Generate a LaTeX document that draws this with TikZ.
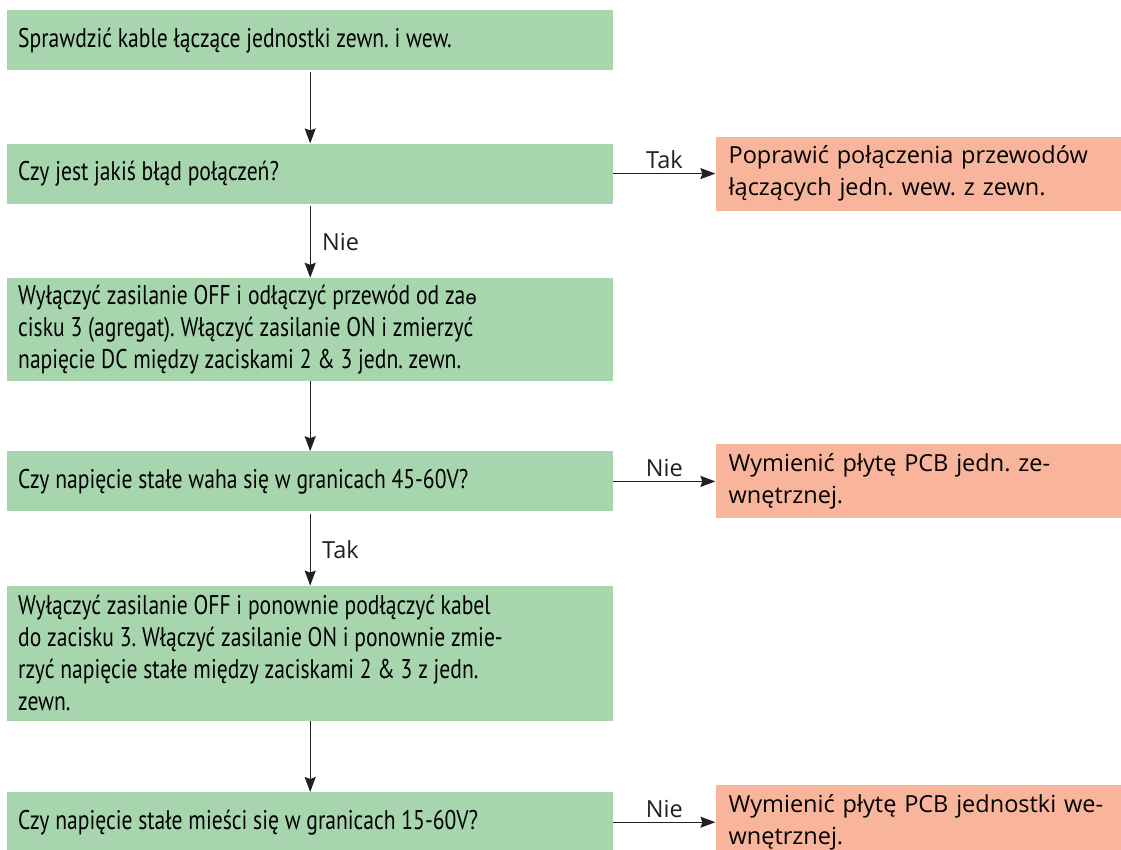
\documentclass[tikz,border=0pt]{standalone}
\usepackage{fontspec}
\setmainfont{PT Sans}
\newfontfamily\stepfont[FakeStretch=0.8]{PT Sans}
\newfontfamily\fixfont{Open Sans}
\newfontfamily\glyphfont{DejaVu Sans}
\usetikzlibrary{positioning,arrows.meta}
\definecolor{stepgreen}{RGB}{167,214,174}
\definecolor{fixorange}{RGB}{248,181,155}
\definecolor{flowline}{RGB}{35,31,32}

\begin{document}
\frenchspacing
\begin{tikzpicture}[
      x=1pt, y=1pt,
      node distance=72pt and 102pt,
      stepbox/.style={rectangle, fill=stepgreen, text width=584pt, align=flush left, minimum height=60pt, inner xsep=11pt, inner ysep=5pt, font=\stepfont\fontsize{27}{32}\selectfont},
      fixbox/.style={rectangle, fill=fixorange, text width=380pt, align=left, minimum height=74pt, inner xsep=13pt, inner ysep=5pt, font=\fixfont\fontsize{23.5}{32}\selectfont},
      arrow/.style={-{Stealth[length=15pt, width=11pt, inset=2pt]}, line width=1.2pt, draw=flowline},
      lab/.style={font=\fixfont\fontsize{23.5}{26}\selectfont, text=flowline}
    ]
    \useasboundingbox (0,0) rectangle (1121,-849);
    \clip (0,0) rectangle (1121,-849);

    \node[stepbox, anchor=north west] (check) at (7,-10) {Sprawdzić kable łączące jednostki zewn. i wew.};
    \node[stepbox, below=73pt of check] (fault) {Czy jest jakiś błąd połączeń?};
    \node[fixbox, right=102pt of fault] (rewire) {Poprawić połączenia przewodów\\łączących jedn. wew. z zewn.};

    \node[stepbox, below=74pt of fault, minimum height=103pt] (measure) {
      Wyłączyć zasilanie OFF i odłączyć przewód od za{\glyphfont\fontsize{19}{32}\selectfont ɵ}\\
      cisku 3 (agregat). Włączyć zasilanie ON i zmierzyć\\
      napięcie DC między zaciskami 2 \& 3 jedn. zewn.
    };
    \node[stepbox, below=70pt of measure] (range45) {Czy napięcie stałe waha się w granicach 45-60V?};
    \node[fixbox, right=102pt of range45] (outpcb) {Wymienić płytę PCB jedn. ze-\\wnętrznej.};

    \node[stepbox, below=74pt of range45, minimum height=135pt] (remeasure) {
      Wyłączyć zasilanie OFF i ponownie podłączyć kabel\\
      do zacisku 3. Włączyć zasilanie ON i ponownie zmie-\\
      rzyć napięcie stałe między zaciskami 2 \& 3 z jedn.\\
      zewn.
    };
    \node[stepbox, below=71pt of remeasure] (range15) {Czy napięcie stałe mieści się w granicach 15-60V?};
    \node[fixbox, right=102pt of range15] (inpcb) {Wymienić płytę PCB jednostki we-\\wnętrznej.};

    % main column
    \draw[arrow] ([yshift=-2pt]check.south) -- (fault.north);
    \draw[arrow] ([yshift=-2pt]fault.south) -- node[lab, right=8pt] {Nie} (measure.north);
    \draw[arrow] (measure.south) -- (range45.north);
    \draw[arrow] ([yshift=-2pt]range45.south) -- node[lab, right=8pt] {Tak} (remeasure.north);
    \draw[arrow] (remeasure.south) -- (range15.north);

    % side exits
    \draw[arrow] (fault.east) -- node[lab, above=1pt] {Tak} (rewire.west);
    \draw[arrow] (range45.east) -- node[lab, above=1pt] {Nie} (outpcb.west);
    \draw[arrow] (range15.east) -- node[lab, above=1pt] {Nie} (inpcb.west);
    \end{tikzpicture}
\end{document}
